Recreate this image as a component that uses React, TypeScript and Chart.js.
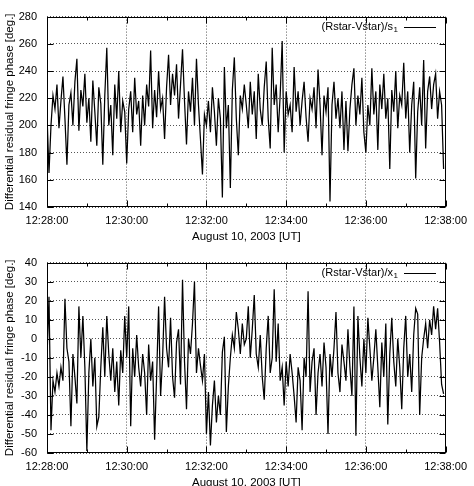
import React, { useEffect, useRef } from "react";
import { Chart, registerables } from "chart.js";

Chart.register(...registerables);

// ---- data ----
const SAMPLE_STEP_S = 3; // seconds between samples, starting 12:28:00
const xTickValues = [0, 120, 240, 360, 480, 600];
const xTickLabels = ["12:28:00", "12:30:00", "12:32:00", "12:34:00", "12:36:00", "12:38:00"];
const xAxisTitle = "August 10, 2003 [UT]";
const yAxisTitle = "Differential residual fringe phase [deg.]";

const phaseS1 = [
  208, 165, 200, 222, 212, 230, 198, 218, 236, 205, 171, 215, 224, 200, 232, 249, 196, 226, 214, 238,
  202, 220, 188, 233, 210, 185, 228, 216, 171, 222, 257, 200, 215, 178, 230, 205, 240, 195, 218, 210,
  172, 212, 225, 195, 235, 208, 218, 185, 222, 200, 230, 214, 255, 198, 226, 206, 240, 212, 220, 190,
  228, 252, 215, 238, 222, 245, 205, 230, 256, 218, 186, 225, 210, 235, 200, 249, 215, 190, 164, 208,
  200, 218, 195, 228, 210, 185, 220, 205, 147, 243, 198, 215, 154, 226, 250, 205, 178, 222, 212, 230,
  215, 198, 232, 208, 225, 190, 238, 212, 200, 228, 247, 205, 183, 257, 215, 230, 195, 222, 262, 180,
  225, 208, 215, 195, 243, 210, 225, 200, 218, 232, 206, 188, 220, 212, 228, 198, 241, 215, 178, 222,
  210, 228, 144, 215, 232, 205, 220, 198, 225, 182, 218, 181, 212, 230, 242, 200, 222, 208, 235, 195,
  180, 215, 200, 242, 208, 225, 182, 230, 212, 238, 205, 220, 168, 226, 210, 240, 198, 222, 215, 246,
  205, 225, 180, 215, 232, 161, 210, 228, 200, 248, 183, 225, 236, 212, 230, 238, 205, 225, 215, 168,
];

const phaseX1 = [
  -10, 22, -48, -22, -28, -18, -25, -15, -22, 21, -5, -12, -46, -8, -20, -34, 17, -10, 12, -15,
  -59, -18, 0, -25, -10, -46, -41, -15, 6, -20, 12, -8, -22, -5, -28, -12, -35, -6, -18, 12,
  -10, 17, -46, -5, -20, 2, -15, -25, -8, -18, -40, -3, -22, -12, -53, -20, 17, -30, -10, 22,
  -5, -15, 11, -20, -31, -2, 5, -24, 31, -12, -37, 0, -8, 8, 30, -18, -5, -14, -22, -8,
  -50, -28, -56, -35, -22, -44, -30, -40, -7, 1, -49, -25, -10, 2, -5, 14, 5, -8, 8, -3,
  0, 17, -10, 5, 23, -8, -15, 2, -20, -32, -5, 12, -18, -10, 26, -12, 8, -22, -15, -35,
  -12, -25, -8, -18, -30, -44, -15, -22, -48, -10, -20, 25, -28, -12, -5, -40, -18, -8, -25, -2,
  -15, -50, -8, -20, -5, 14, -18, -28, -3, -12, -22, 5, -15, -30, 17, -51, 12, -10, -25, 0,
  -18, 11, -5, -22, -10, 5, -15, -36, -2, -20, 8, -45, -8, 11, -12, -25, 0, -15, -37, -5,
  12, -20, -8, -28, 2, 16, 13, -40, -10, 0, 8, -5, 10, 2, 17, 5, 16, -2, -24, -29,
];

const FONT = '"Liberation Sans", Arial, Helvetica, sans-serif';

type PanelProps = {
  values: number[];
  yMin: number;
  yMax: number;
  yStep: number;
  legendMain: string;
  legendSub: string;
  top: number;
};

function Panel({ values, yMin, yMax, yStep, legendMain, legendSub, top }: PanelProps) {
  const ref = useRef<HTMLCanvasElement | null>(null);

  useEffect(() => {
    if (!ref.current) return;
    const data = values.map((v, i) => ({ x: i * SAMPLE_STEP_S, y: v }));

    const framePlugin = {
      id: "frameAndLegend",
      afterDraw(chart: any) {
        const { ctx, chartArea } = chart;
        const xs = chart.scales.x;
        const ys = chart.scales.y;
        const l = Math.round(chartArea.left) + 0.5;
        const r = Math.round(chartArea.right) - 0.5;
        const t = Math.round(chartArea.top) + 0.5;
        const b = Math.round(chartArea.bottom) - 0.5;
        ctx.save();
        ctx.strokeStyle = "#000";
        ctx.lineWidth = 1;
        ctx.setLineDash([]);
        ctx.strokeRect(l, t, r - l, b - t);
        // inward ticks on x (major every 2 min, minor every minute)
        ctx.beginPath();
        for (let s = 0; s <= 600; s += 60) {
          const px = Math.round(xs.getPixelForValue(s)) + 0.5;
          const len = s % 120 === 0 ? 6 : 3;
          ctx.moveTo(px, b);
          ctx.lineTo(px, b - len);
          ctx.moveTo(px, t);
          ctx.lineTo(px, t + len);
        }
        for (let v = yMin; v <= yMax; v += yStep) {
          const py = Math.round(ys.getPixelForValue(v)) + 0.5;
          ctx.moveTo(l, py);
          ctx.lineTo(l + 6, py);
          ctx.moveTo(r, py);
          ctx.lineTo(r - 6, py);
        }
        ctx.stroke();
        // legend
        const ly = t + 9;
        ctx.fillStyle = "#000";
        ctx.textBaseline = "middle";
        ctx.font = `11px ${FONT}`;
        const w1 = ctx.measureText(legendMain).width;
        ctx.font = `8px ${FONT}`;
        const w2 = ctx.measureText(legendSub).width;
        const endX = 398;
        const subX = endX - w2;
        const mainX = subX - w1 - 0.5;
        ctx.font = `11px ${FONT}`;
        ctx.textAlign = "left";
        ctx.fillText(legendMain, mainX, ly);
        ctx.font = `8px ${FONT}`;
        ctx.fillText(legendSub, subX, ly + 3);
        ctx.beginPath();
        ctx.moveTo(404, Math.round(ly) + 0.5);
        ctx.lineTo(436, Math.round(ly) + 0.5);
        ctx.stroke();
        ctx.restore();
      },
    };

    const chart = new Chart(ref.current, {
      type: "line",
      data: {
        datasets: [
          {
            data,
            borderColor: "#000",
            borderWidth: 1.25,
            pointRadius: 0,
            tension: 0,
            fill: false,
          },
        ],
      },
      options: {
        responsive: false,
        animation: false,
        events: [],
        layout: { padding: { top: 7, right: 25, bottom: 0, left: 0 } },
        plugins: { legend: { display: false }, tooltip: { enabled: false } },
        scales: {
          x: {
            type: "linear",
            min: 0,
            max: 600,
            afterFit: (scale: any) => {
              scale.height = 39;
            },
            ticks: {
              stepSize: 120,
              color: "#000",
              font: { family: FONT, size: 11 },
              padding: 7,
              maxRotation: 0,
              autoSkip: false,
              callback: (v: any) => {
                const i = xTickValues.indexOf(Number(v));
                return i >= 0 ? xTickLabels[i] : "";
              },
            },
            grid: { color: "#555", lineWidth: 1, drawTicks: false },
            border: { display: false, dash: [1, 2] },
            title: {
              display: true,
              text: xAxisTitle,
              color: "#000",
              font: { family: FONT, size: 11.5 },
              padding: { top: 0, bottom: 2 },
            },
          },
          y: {
            min: yMin,
            max: yMax,
            afterFit: (scale: any) => {
              scale.width = 47;
            },
            ticks: {
              stepSize: yStep,
              color: "#000",
              font: { family: FONT, size: 11 },
              padding: 10,
            },
            grid: { color: "#555", lineWidth: 1, drawTicks: false },
            border: { display: false, dash: [1, 2] },
            title: {
              display: true,
              text: yAxisTitle,
              color: "#000",
              font: { family: FONT, size: 11.5 },
              padding: { top: 3, bottom: 0 },
            },
          },
        },
      },
      plugins: [framePlugin],
    });
    return () => chart.destroy();
  }, [values, yMin, yMax, yStep, legendMain, legendSub]);

  return (
    <canvas
      ref={ref}
      width={474}
      height={246}
      style={{ position: "absolute", left: 0, top, width: 474, height: 246, display: "block" }}
    />
  );
}

export default function App() {
  return (
    <div
      style={{
        position: "fixed",
        left: 0,
        top: 0,
        width: 474,
        height: 486,
        overflow: "hidden",
        background: "#fff",
      }}
    >
      <Panel values={phaseS1} yMin={140} yMax={280} yStep={20} legendMain="(Rstar-Vstar)/s" legendSub="1" top={0} />
      <Panel values={phaseX1} yMin={-60} yMax={40} yStep={10} legendMain="(Rstar-Vstar)/x" legendSub="1" top={246} />
    </div>
  );
}
